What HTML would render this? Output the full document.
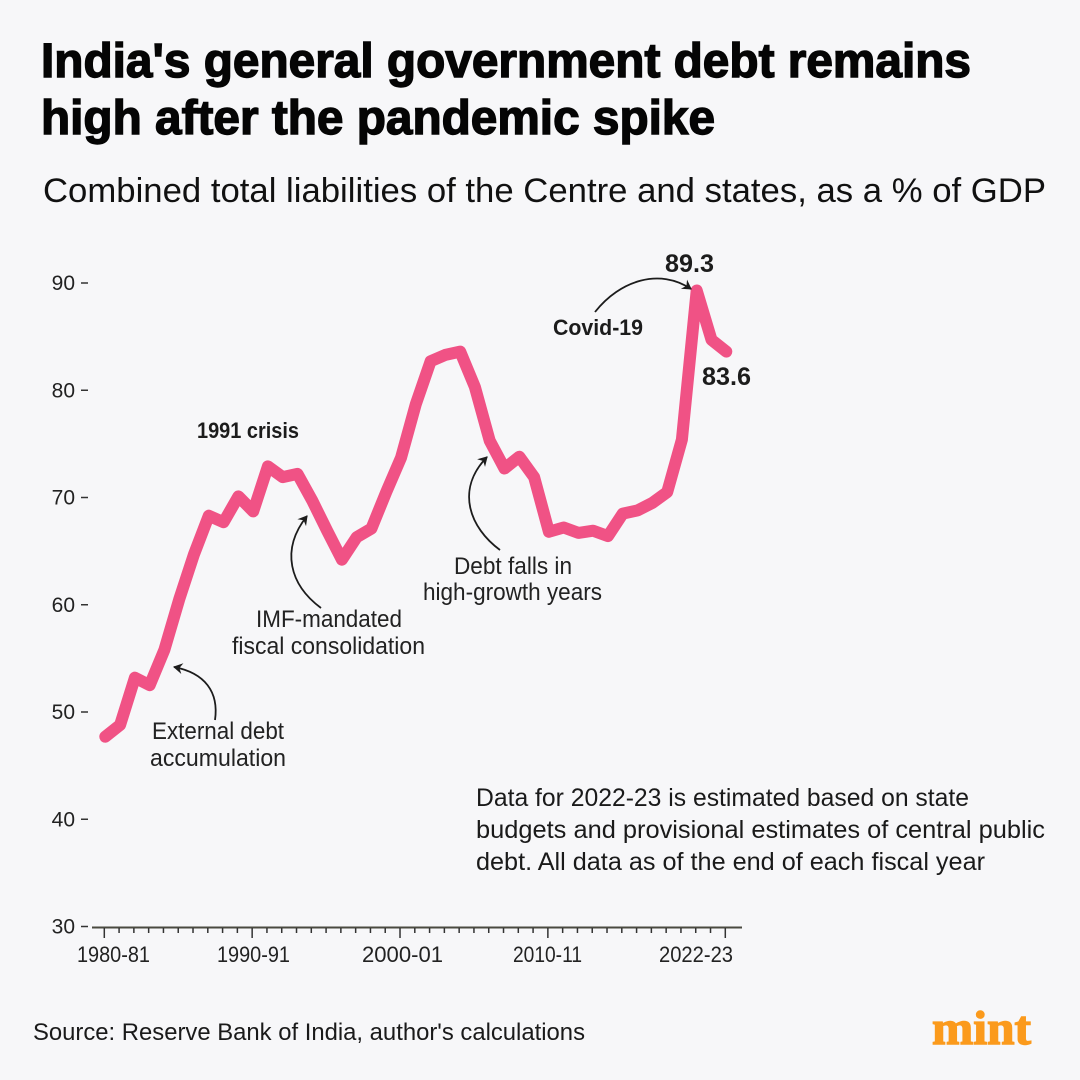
<!DOCTYPE html>
<html lang="en">
<head>
<meta charset="utf-8">
<title>India's general government debt</title>
<style>
html,body{margin:0;padding:0;background:#f7f7f9;}
svg{display:block;font-family:"Liberation Sans",sans-serif;}
.title{font-size:48px;font-weight:700;fill:#050505;stroke:#050505;stroke-width:1.400px;}
.sub{font-size:34px;fill:#111;}
.note{font-size:25px;fill:#1a1a1a;}
.ann{font-size:24px;fill:#222;}
.annb{font-size:22px;font-weight:700;fill:#1c1c1c;}
.val{font-size:25px;font-weight:700;fill:#1c1c1c;}
.tick{font-size:22px;fill:#222;}
.ytick{font-size:21px;fill:#222;}
</style>
</head>
<body>
<svg id="chart" width="1080" height="1080" viewBox="0 0 1080 1080" xmlns="http://www.w3.org/2000/svg">
  <defs>
    <marker id="head" markerWidth="14" markerHeight="14" refX="10" refY="6" orient="auto" markerUnits="userSpaceOnUse">
      <path d="M1.500 0.500 L11 6 L1.500 11.500 L4.500 6 Z" fill="#1c1c1c"/>
    </marker>
  </defs>
  <rect width="1080" height="1080" fill="#f7f7f9"/>

  <text class="title" x="41" y="77" textLength="930" lengthAdjust="spacingAndGlyphs">India's general government debt remains</text>
  <text class="title" x="41" y="134" textLength="674" lengthAdjust="spacingAndGlyphs">high after the pandemic spike</text>
  <text class="sub" x="43" y="202" textLength="1003" lengthAdjust="spacingAndGlyphs">Combined total liabilities of the Centre and states, as a % of GDP</text>

  <g id="axes">
    <text class="tick" x="77" y="962" textLength="73" lengthAdjust="spacingAndGlyphs">1980-81</text>
    <text class="tick" x="217" y="962" textLength="73" lengthAdjust="spacingAndGlyphs">1990-91</text>
    <text class="tick" x="362" y="962" textLength="81" lengthAdjust="spacingAndGlyphs">2000-01</text>
    <text class="tick" x="513" y="962" textLength="69" lengthAdjust="spacingAndGlyphs">2010-11</text>
    <text class="tick" x="659" y="962" textLength="74" lengthAdjust="spacingAndGlyphs">2022-23</text>
  </g>
  <g id="series"></g>

  <text class="annb" x="197" y="438" textLength="102" lengthAdjust="spacingAndGlyphs">1991 crisis</text>
  <text class="ann" x="152" y="739" textLength="132" lengthAdjust="spacingAndGlyphs">External debt</text>
  <text class="ann" x="150" y="766" textLength="136" lengthAdjust="spacingAndGlyphs">accumulation</text>
  <text class="ann" x="256" y="627" textLength="146" lengthAdjust="spacingAndGlyphs">IMF-mandated</text>
  <text class="ann" x="232" y="654" textLength="193" lengthAdjust="spacingAndGlyphs">fiscal consolidation</text>
  <text class="ann" x="454" y="574" textLength="118" lengthAdjust="spacingAndGlyphs">Debt falls in</text>
  <text class="ann" x="423" y="600" textLength="179" lengthAdjust="spacingAndGlyphs">high-growth years</text>
  <text class="annb" x="553" y="335" textLength="90" lengthAdjust="spacingAndGlyphs">Covid-19</text>
  <text id="peakLabel" class="val" x="665" y="272" textLength="49" lengthAdjust="spacingAndGlyphs"></text>
  <text id="lastLabel" class="val" x="702" y="385" textLength="49" lengthAdjust="spacingAndGlyphs"></text>

  <g fill="none" stroke="#1c1c1c" stroke-width="1.800">
    <path marker-end="url(#head)" d="M215 720 C219 692 205 673 174 667"/>
    <path marker-end="url(#head)" d="M321 608 C290 585 280 550 307 516"/>
    <path marker-end="url(#head)" d="M500 550 C470 528 455 490 487 457"/>
    <path marker-end="url(#head)" d="M595 312 C620 280 660 268 691 289"/>
  </g>

  <text class="note" x="476" y="806" textLength="493" lengthAdjust="spacingAndGlyphs">Data for 2022-23 is estimated based on state</text>
  <text class="note" x="476" y="838" textLength="569" lengthAdjust="spacingAndGlyphs">budgets and provisional estimates of central public</text>
  <text class="note" x="476" y="870" textLength="509" lengthAdjust="spacingAndGlyphs">debt. All data as of the end of each fiscal year</text>

  <text x="33" y="1040" font-size="24" fill="#1a1a1a" textLength="552" lengthAdjust="spacingAndGlyphs">Source: Reserve Bank of India, author's calculations</text>
  <text x="932" y="1044" font-size="48" font-weight="700" fill="#fb9a1c" stroke="#fb9a1c" stroke-width="1.400" textLength="99" lengthAdjust="spacingAndGlyphs" style="font-family:'Liberation Serif',serif">mint</text>
</svg>
<script>
var values = [47.7,48.8,53.2,52.5,55.8,60.5,64.7,68.3,67.7,70.1,68.7,72.9,71.9,72.2,69.7,66.9,64.2,66.3,67.1,70.5,73.7,78.7,82.7,83.3,83.6,80.3,75.3,72.7,73.8,71.9,66.8,67.2,66.7,66.9,66.4,68.5,68.8,69.5,70.5,75.4,89.3,84.7,83.6];
var yTicks = [30,40,50,60,70,80,90];
var majorTickIndex = [0,10,20,30,42];

var NS = "http://www.w3.org/2000/svg";
function xScale(i){ return 104.3 + i * (725.3 - 104.3) / 42; }
function yScale(v){ return 926.5 - (v - 30) * (926.5 - 283) / 60; }
function make(tag, attrs, parent){
  var el = document.createElementNS(NS, tag);
  for (var k in attrs) el.setAttribute(k, attrs[k]);
  parent.appendChild(el);
  return el;
}
var axes = document.getElementById("axes");
var series = document.getElementById("series");

var axisLine = make("line", {x1:92, x2:742, y1:927.5, y2:927.5, stroke:"#4a4a40", "stroke-width":2}, axes);



yTicks.forEach(function(t){
  var y = yScale(t);
  var label = make("text", {x:75, y:y + 7, "text-anchor":"end", "class":"ytick"}, axes);
  label.textContent = String(t);
  
  
  var dash = make("line", {x1:81, x2:88, y1:y, y2:y, stroke:"#333", "stroke-width":1.500}, axes);
  
  
});

values.forEach(function(v, i){
  var major = majorTickIndex.indexOf(i) >= 0;
  var x = xScale(i);
  var tick = make("line", {x1:x, x2:x, y1:928, y2: major ? 938 : 933, stroke:"#333", "stroke-width":1.500}, axes);
  
  
});

var d = values.map(function(v, i){
  return (i ? "L" : "M") + (xScale(i) + 1).toFixed(1) + " " + yScale(v).toFixed(1);
}).join(" ");
var line = make("path", {d:d, fill:"none", stroke:"#f05285", "stroke-width":12, "stroke-linejoin":"round", "stroke-linecap":"round"}, series);



document.getElementById("peakLabel").textContent = Math.max.apply(null, values).toFixed(1);
document.getElementById("lastLabel").textContent = values[values.length - 1].toFixed(1);
</script>
</body>
</html>
